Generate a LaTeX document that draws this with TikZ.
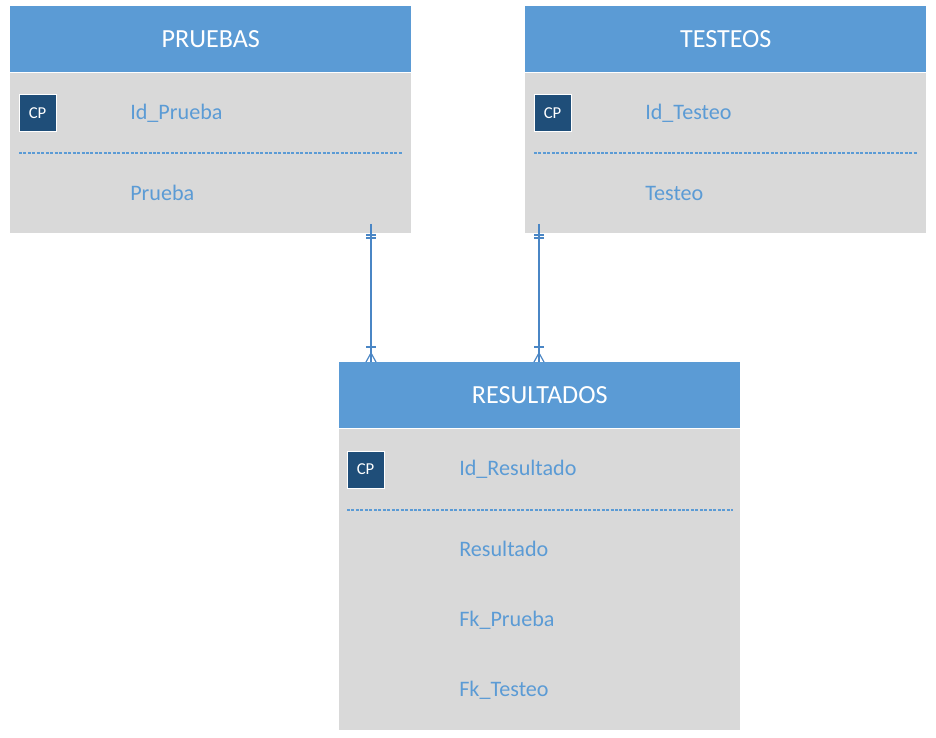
\documentclass[tikz,border=0pt]{standalone}
\usepackage{fontspec}
\setmainfont{Carlito}
\definecolor{hdrblue}{HTML}{5B9BD5}
\definecolor{bodygrey}{HTML}{D9D9D9}
\definecolor{cpblue}{HTML}{1F4E79}
\definecolor{fieldblue}{HTML}{5B9BD5}
\definecolor{linkblue}{HTML}{4A86C5}
\begin{document}
\begin{tikzpicture}[x=0.75pt,y=-0.75pt,
  hdr/.style={fill=hdrblue, draw=none, minimum width=300.75pt, minimum height=49.5pt, inner sep=0pt, anchor=north west, text=white, font=\fontsize{19.6}{22}\selectfont},
  bodybox/.style={fill=bodygrey, draw=none, minimum width=300.75pt, inner sep=0pt, anchor=north west},
  cpbox/.style={fill=cpblue, draw=white, line width=0.75pt, minimum width=27.75pt, minimum height=27.75pt, inner sep=0pt, text=white, font=\fontsize{12.5}{14}\selectfont},
  field/.style={anchor=west, inner sep=0pt, text=fieldblue, font=\fontsize{16.6}{19}\selectfont},
  sep/.style={draw=fieldblue, line width=1pt, dash pattern=on 2.25pt off 1.1pt},
  link/.style={draw=linkblue, line width=0.9pt},
  hline/.style={draw=white, line width=1pt}
]
\useasboundingbox (0,0) rectangle (936,738);
\fill[white] (0,0) rectangle (936,738);

% PRUEBAS
\node[bodybox, minimum height=120.75pt] (pbody) at (10,72) {};
\node[hdr] (phdr) at (10,6) {PRUEBAS};
\draw[hline] (phdr.south west) -- (phdr.south east);
\node[cpbox] (pcp) at (37.5,113.5) {CP};
\node[field] (pid) at (130,113) {Id\_Prueba};
\draw[sep] (19,153) -- (402,153);
\node[field] (pf1) at (130,193) {Prueba};

% TESTEOS
\node[bodybox, minimum height=120.75pt] (tbody) at (525,72) {};
\node[hdr] (thdr) at (525,6) {TESTEOS};
\draw[hline] (thdr.south west) -- (thdr.south east);
\node[cpbox] (tcp) at (552.5,113.5) {CP};
\node[field] (tid) at (645,113) {Id\_Testeo};
\draw[sep] (534,153) -- (917,153);
\node[field] (tf1) at (645,193) {Testeo};

% RESULTADOS
\node[bodybox, minimum height=225.75pt] (rbody) at (339,429) {};
\node[hdr] (rhdr) at (339,362) {RESULTADOS};
\draw[hline] (rhdr.south west) -- (rhdr.south east);
\node[cpbox] (rcp) at (365.5,469.5) {CP};
\node[field] (rid) at (459,469) {Id\_Resultado};
\draw[sep] (347,510) -- (733,510);
\node[field] (rf1) at (459,549) {Resultado};
\node[field] (rf2) at (459,620) {Fk\_Prueba};
\node[field] (rf3) at (459,690) {Fk\_Testeo};

% connectors
\coordinate (p1) at (371,224);
\coordinate (r1) at (371,362);
\coordinate (t2) at (539,224);
\coordinate (r2) at (539,362);
\foreach \a/\b in {p1/r1, t2/r2}{
  \draw[link] (\a) -- (\b);
  \draw[link] ([xshift=-5*0.75pt,yshift=-11*0.75pt]\a) -- ++(10*0.75pt,0);
  \draw[link] ([xshift=-5*0.75pt,yshift=-14*0.75pt]\a) -- ++(10*0.75pt,0);
  \draw[link] ([xshift=-5*0.75pt,yshift=15*0.75pt]\b) -- ++(10*0.75pt,0);
  \draw[link] ([xshift=-5*0.75pt]\b) -- ([yshift=9*0.75pt]\b) -- ([xshift=5*0.75pt]\b);
}
\end{tikzpicture}
\end{document}
